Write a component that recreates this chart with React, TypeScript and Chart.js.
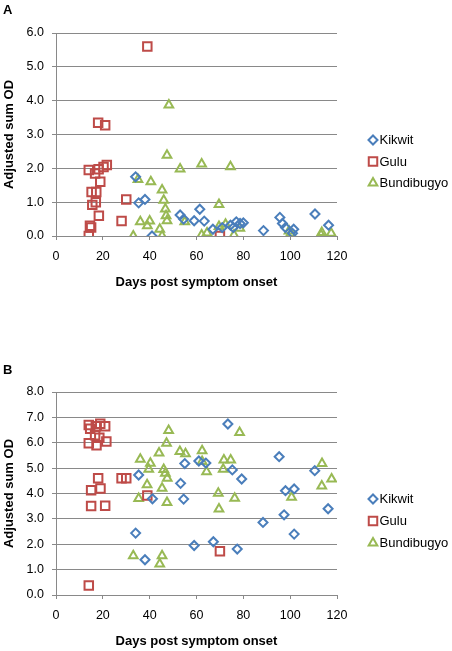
import React, { useEffect, useRef } from 'react';
import { Chart, registerables } from 'chart.js';
import { drawPoint } from 'chart.js/helpers';

Chart.register(...registerables);

// ---------- data ----------
const seriesNames = ['Kikwit', 'Gulu', 'Bundibugyo'];
const seriesColors = ['#4A7EBB', '#BE4B48', '#98B954'];
const seriesStyles = ['rectRot', 'rect', 'triangle'];
const seriesRadii = [4.5, 6, 5];

const xTickLabels = ['0', '20', '40', '60', '80', '100', '120'];
const yTickLabelsA = ['0.0', '1.0', '2.0', '3.0', '4.0', '5.0', '6.0'];
const yTickLabelsB = ['0.0', '1.0', '2.0', '3.0', '4.0', '5.0', '6.0', '7.0', '8.0'];
const xTitle = 'Days post symptom onset';
const yTitle = 'Adjusted sum OD';

// Panel A  [day, adjusted sum OD]
const kikwitA: [number, number][] = [
  [34, 1.75], [35.3, 0.98], [38, 1.08], [41, 0.0], [53, 0.62], [54.5, 0.5], [59, 0.45],
  [61.4, 0.79], [63.3, 0.44], [67, 0.2], [71, 0.25], [74.5, 0.32], [75.7, 0.25], [77, 0.42],
  [78.6, 0.37], [80, 0.39], [88.6, 0.16], [95.6, 0.55], [96.7, 0.37], [98, 0.25],
  [101.5, 0.2], [101, 0.08], [110.6, 0.65], [116.4, 0.32],
];
const guluA: [number, number][] = [
  [14, 1.95], [14, 0.0], [14.5, 0.3], [15, 0.25], [15.2, 1.3], [17.2, 1.3], [15.5, 0.92],
  [17, 1.0], [18.3, 0.6], [18.9, 1.6], [16.7, 1.85], [18.2, 1.97], [20.3, 2.04], [21.7, 2.1],
  [18, 3.35], [21, 3.27], [28, 0.44], [30, 1.08], [39, 5.6], [70, 0.0],
];
const bundibugyoA: [number, number][] = [
  [33, 0.0], [35, 1.67], [36, 0.42], [39, 0.3], [40, 0.44], [40.5, 1.6], [44.3, 0.2],
  [45.3, 0.0], [45.3, 1.36], [46, 1.06], [46.7, 0.8], [47, 0.6], [47.4, 0.45], [47.4, 2.39],
  [48.2, 3.87], [53, 1.98], [55, 0.42], [62.2, 2.13], [62.2, 0.03], [64.5, 0.09], [69.6, 0.93],
  [69.6, 0.28], [72.4, 0.35], [74.5, 2.05], [76, 0.03], [78.5, 0.23], [100.3, 0.08],
  [99.5, 0.15], [113.2, 0.03], [113.5, 0.1], [117.5, 0.08],
];

// Panel B
const kikwitB: [number, number][] = [
  [34, 2.44], [35.3, 4.73], [38, 1.39], [41.2, 3.79], [53.2, 4.4], [54.5, 3.78], [55, 5.18],
  [59, 1.95], [61, 5.28], [64, 5.2], [67.2, 2.1], [73.4, 6.74], [75.3, 4.93], [77.4, 1.81],
  [79.3, 4.57], [88.4, 2.86], [95.3, 5.45], [97.4, 3.16], [98, 4.11], [101.7, 4.18],
  [101.7, 2.4], [110.5, 4.9], [116.2, 3.4],
];
const guluB: [number, number][] = [
  [14, 6.7], [14.6, 6.55], [17, 6.65], [18.9, 6.75], [21, 6.65], [16.7, 6.3], [18.5, 6.2],
  [14, 5.98], [17.3, 5.9], [21.5, 6.05], [18, 4.6], [15, 4.13], [19, 4.2], [15, 3.51],
  [21, 3.52], [28, 4.6], [30, 4.6], [39, 3.92], [14, 0.37], [70, 1.72],
];
const bundibugyoB: [number, number][] = [
  [33, 1.55], [35.3, 3.8], [36, 5.35], [38.9, 4.34], [39.6, 4.96], [40.3, 5.19], [44, 5.6],
  [44.3, 1.22], [45.3, 1.55], [45.3, 4.21], [46, 4.95], [46.7, 4.8], [47.5, 4.6], [47.4, 3.65],
  [47.2, 5.98], [48.1, 6.48], [52.9, 5.66], [55.3, 5.57], [62.4, 5.68], [62.4, 5.26],
  [64.3, 4.86], [69.3, 4.01], [69.6, 3.39], [71.4, 4.96], [71.7, 5.32], [74.6, 5.32],
  [76.3, 3.81], [78.4, 6.4], [100.6, 3.85], [113.6, 5.18], [113.5, 4.3], [117.7, 4.57],
];

// ---------- styling ----------
const FONT = '"Liberation Sans", Arial, sans-serif';
const GRID = '#898989';

const overlayPlugin = {
  id: 'overlay',
  afterDraw(chart: any, _args: any, opts: any) {
    const ctx = chart.ctx as CanvasRenderingContext2D;
    ctx.save();
    ctx.fillStyle = '#000';
    ctx.font = `bold 13px ${FONT}`;
    ctx.textBaseline = 'alphabetic';
    ctx.textAlign = 'left';
    ctx.fillText(opts.panel, opts.panelX, opts.panelY);
    chart.data.datasets.forEach((ds: any, i: number) => {
      const y = opts.legendY + i * opts.legendGap;
      ctx.save();
      ctx.strokeStyle = ds.borderColor;
      ctx.fillStyle = 'rgba(0,0,0,0)';
      ctx.lineWidth = 2;
      drawPoint(ctx, { pointStyle: ds.pointStyle, radius: ds.pointRadius, borderWidth: 2, rotation: 0 } as any, opts.legendX, y);
      ctx.restore();
      ctx.fillStyle = '#000';
      ctx.font = `13px ${FONT}`;
      ctx.textBaseline = 'middle';
      ctx.fillText(ds.label, opts.legendX + 6.5, y + 0.5);
    });
    ctx.restore();
  },
};

function makeDatasets(series: [number, number][][]) {
  return series.map((pts, i) => ({
    label: seriesNames[i],
    data: pts.map(([x, y]) => ({ x, y })),
    borderColor: seriesColors[i],
    backgroundColor: 'rgba(0,0,0,0)',
    pointStyle: seriesStyles[i],
    pointRadius: seriesRadii[i],
    pointBorderWidth: 2,
    showLine: false,
  }));
}

function makeConfig(series: [number, number][][], yMax: number, yLabels: string[], topPad: number, overlay: any): any {
  return {
    type: 'scatter',
    data: { datasets: makeDatasets(series) },
    plugins: [overlayPlugin],
    options: {
      responsive: false,
      animation: false,
      layout: { padding: { left: 0, right: 115, top: topPad, bottom: 0 } },
      plugins: {
        legend: { display: false },
        tooltip: { enabled: false },
        overlay,
      },
      scales: {
        x: {
          type: 'linear',
          min: 0,
          max: 120,
          ticks: {
            stepSize: 20,
            padding: 9,
            color: '#000',
            font: { family: FONT, size: 12.5 },
            callback: (_v: any, i: number) => xTickLabels[i],
          },
          grid: { drawOnChartArea: false, drawTicks: true, tickLength: 4, color: GRID },
          border: { color: GRID, width: 1 },
          title: {
            display: true,
            text: xTitle,
            color: '#000',
            font: { family: FONT, size: 13, weight: 'bold' },
            padding: { top: 0, bottom: 2 },
          },
          afterFit(scale: any) {
            scale.height = 56;
          },
        },
        y: {
          type: 'linear',
          min: 0,
          max: yMax,
          ticks: {
            stepSize: 1,
            padding: 8,
            color: '#000',
            font: { family: FONT, size: 12.5 },
            callback: (_v: any, i: number) => yLabels[i],
          },
          grid: { color: GRID, tickLength: 4, drawTicks: true },
          border: { color: GRID, width: 1 },
          title: {
            display: true,
            text: yTitle,
            color: '#000',
            font: { family: FONT, size: 13, weight: 'bold' },
            padding: { top: 2, bottom: 0 },
          },
          afterFit(scale: any) {
            scale.width = 56;
          },
        },
      },
    },
  };
}

function Panel({ top, height, config }: { top: number; height: number; config: any }) {
  const ref = useRef<HTMLCanvasElement>(null);
  useEffect(() => {
    if (!ref.current) return;
    const chart = new Chart(ref.current, config);
    return () => chart.destroy();
  }, [config]);
  return (
    <canvas
      ref={ref}
      width={452}
      height={height}
      style={{ position: 'absolute', left: 0, top, width: 452, height, display: 'block' }}
    />
  );
}

const configA = makeConfig([kikwitA, guluA, bundibugyoA], 6, yTickLabelsA, 33, {
  panel: 'A', panelX: 3, panelY: 13.5, legendX: 373, legendY: 140, legendGap: 21.5,
});
const configB = makeConfig([kikwitB, guluB, bundibugyoB], 8, yTickLabelsB, 92, {
  panel: 'B', panelX: 3, panelY: 73.5, legendX: 373, legendY: 199, legendGap: 22,
});

export default function App() {
  return (
    <div style={{ position: 'absolute', left: 0, top: 0, width: 452, height: 651, background: '#fff' }}>
      <Panel top={0} height={292} config={configA} />
      <Panel top={300} height={351} config={configB} />
    </div>
  );
}
